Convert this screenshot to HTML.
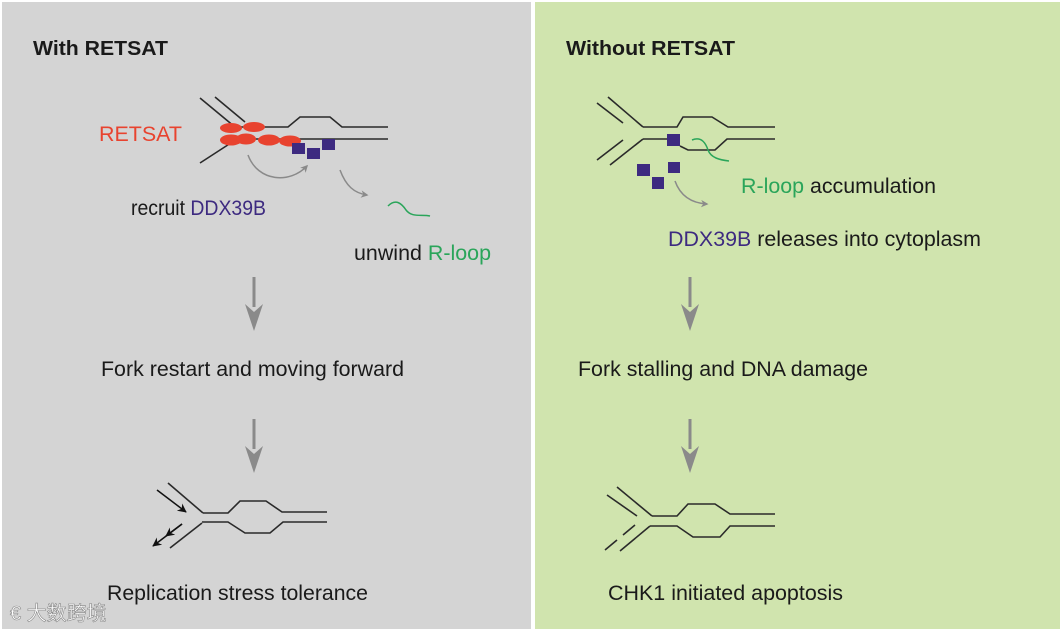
<!DOCTYPE html>
<html><head><meta charset="utf-8"><style>
html,body{margin:0;padding:0;background:#fff}
svg{display:block}
text{font-family:"Liberation Sans",Arial,sans-serif}
</style></head><body>
<svg width="1062" height="631" viewBox="0 0 1062 631" xmlns="http://www.w3.org/2000/svg">
<defs>
<marker id="ga" viewBox="0 0 10 10" refX="8" refY="5" markerWidth="5" markerHeight="5" orient="auto"><path d="M0,0 L10,5 L0,10 L3,5z" fill="#8a8a8a"/></marker>
<marker id="ba" viewBox="0 0 10 10" refX="9" refY="5" markerWidth="6" markerHeight="6" orient="auto"><path d="M0,0 L10,5 L0,10 L3,5z" fill="#111"/></marker>
</defs>
<rect x="0" y="0" width="1062" height="631" fill="#fff"/>
<rect x="2" y="2" width="529" height="627" fill="#d4d4d4"/>
<rect x="535" y="2" width="525" height="627" fill="#d0e4ae"/>

<text x="33" y="55" font-size="20" font-weight="bold" fill="#1a1a1a" textLength="135" lengthAdjust="spacingAndGlyphs">With RETSAT</text>
<text x="566" y="55" font-size="20" font-weight="bold" fill="#1a1a1a" textLength="169" lengthAdjust="spacingAndGlyphs">Without RETSAT</text>

<g stroke="#2a2a2a" stroke-width="1.6" fill="none">
<line x1="200" y1="98" x2="235" y2="127"/>
<line x1="215" y1="97" x2="245" y2="122"/>
<polyline points="235,127 288,127 300,117 330,117 342,127 388,127"/>
<line x1="200" y1="163" x2="237" y2="139"/>
<polyline points="237,139 330,139 388,139"/>
<line x1="597" y1="103" x2="623" y2="123"/>
<line x1="608" y1="97" x2="643" y2="127"/>
<polyline points="643,127 677,127 683,117 712,117 728,127 775,127"/>
<line x1="597" y1="160" x2="623" y2="140"/>
<line x1="610" y1="165" x2="643" y2="139"/>
<polyline points="643,139 668,139"/>
<polyline points="680,146 688,150 715,150 727,139 775,139"/>
<line x1="168" y1="483" x2="203" y2="513"/>
<polyline points="203,513 228,513 240,501 266,501 282,512 327,512"/>
<line x1="170" y1="548" x2="202" y2="523"/>
<polyline points="202,522 228,522 245,533 270,533 283,522 327,522"/>
<line x1="617" y1="487" x2="652" y2="516"/>
<line x1="607" y1="495" x2="637" y2="516"/>
<polyline points="652,516 677,516 688,504 715,504 730,514 775,514"/>
<line x1="650" y1="526" x2="620" y2="551"/>
<line x1="623" y1="535" x2="635" y2="525"/>
<line x1="605" y1="550" x2="617" y2="540"/>
<polyline points="650,526 677,526 693,537 720,537 730,526 775,526"/>
</g>

<g stroke="#111" stroke-width="1.5" fill="none">
<line x1="157" y1="490" x2="186" y2="512" marker-end="url(#ba)"/>
<line x1="182" y1="524" x2="153" y2="546" marker-end="url(#ba)"/>
<line x1="182" y1="524" x2="166" y2="536" marker-end="url(#ba)"/>
</g>

<g fill="#e8432f">
<ellipse cx="231" cy="128" rx="11" ry="5"/>
<ellipse cx="254" cy="127" rx="11" ry="5"/>
<ellipse cx="231" cy="140" rx="11" ry="5.5"/>
<ellipse cx="246" cy="139" rx="10" ry="5.5"/>
<ellipse cx="269" cy="140" rx="11" ry="5.5"/>
<ellipse cx="290" cy="141" rx="11" ry="5.5"/>
</g>
<g fill="#3d2a80">
<rect x="292" y="143" width="13" height="11"/>
<rect x="307" y="148" width="13" height="11"/>
<rect x="322" y="139" width="13" height="11"/>
<rect x="667" y="134" width="13" height="12"/>
<rect x="637" y="164" width="13" height="12"/>
<rect x="652" y="177" width="12" height="12"/>
<rect x="668" y="162" width="12" height="11"/>
</g>
<g stroke="#2aa55a" stroke-width="1.5" fill="none">
<path d="M388,206 C396,198 402,204 406,210 C412,218 422,214 430,216"/>
<path d="M692,140 C702,136 706,144 708,150 C711,158 720,160 729,161"/>
</g>
<g stroke="#8a8a8a" stroke-width="1.5" fill="none">
<path d="M248,155 C258,182 290,184 307,166" marker-end="url(#ga)"/>
<path d="M340,170 C346,186 354,193 367,195" marker-end="url(#ga)"/>
<path d="M675,181 C680,195 690,203 707,204" marker-end="url(#ga)"/>
</g>

<g fill="#8a8a8a">
<rect x="252.5" y="277" width="3" height="30"/>
<path d="M245,304 L254,331 L263,304 L254,312z"/>
<rect x="252.5" y="419" width="3" height="30"/>
<path d="M245,446 L254,473 L263,446 L254,454z"/>
<rect x="688.5" y="277" width="3" height="30"/>
<path d="M681,304 L690,331 L699,304 L690,312z"/>
<rect x="688.5" y="419" width="3" height="30"/>
<path d="M681,446 L690,473 L699,446 L690,454z"/>
</g>

<g font-size="21">
<text x="99" y="141" fill="#e8432f" textLength="83" lengthAdjust="spacingAndGlyphs">RETSAT</text>
<text x="131" y="215" fill="#1a1a1a" textLength="135" lengthAdjust="spacingAndGlyphs">recruit <tspan fill="#3d2a80">DDX39B</tspan></text>
<text x="354" y="260" fill="#1a1a1a" textLength="137" lengthAdjust="spacingAndGlyphs">unwind <tspan fill="#2aa55a">R-loop</tspan></text>
<text x="101" y="376" fill="#1a1a1a" textLength="303" lengthAdjust="spacingAndGlyphs">Fork restart and moving forward</text>
<text x="107" y="600" fill="#1a1a1a" textLength="261" lengthAdjust="spacingAndGlyphs">Replication stress tolerance</text>
<text x="741" y="193" fill="#1a1a1a" textLength="195" lengthAdjust="spacingAndGlyphs"><tspan fill="#2aa55a">R-loop</tspan> accumulation</text>
<text x="668" y="246" fill="#1a1a1a" textLength="313" lengthAdjust="spacingAndGlyphs"><tspan fill="#3d2a80">DDX39B</tspan> releases into cytoplasm</text>
<text x="578" y="376" fill="#1a1a1a" textLength="290" lengthAdjust="spacingAndGlyphs">Fork stalling and DNA damage</text>
<text x="608" y="600" fill="#1a1a1a" textLength="235" lengthAdjust="spacingAndGlyphs">CHK1 initiated apoptosis</text>
</g>
<text x="10" y="620" font-size="20" fill="#fff" stroke="#888" stroke-width="0.6" font-family="'Liberation Sans','Noto Sans CJK SC',sans-serif">€ 大数跨境</text>
</svg>
</body></html>
